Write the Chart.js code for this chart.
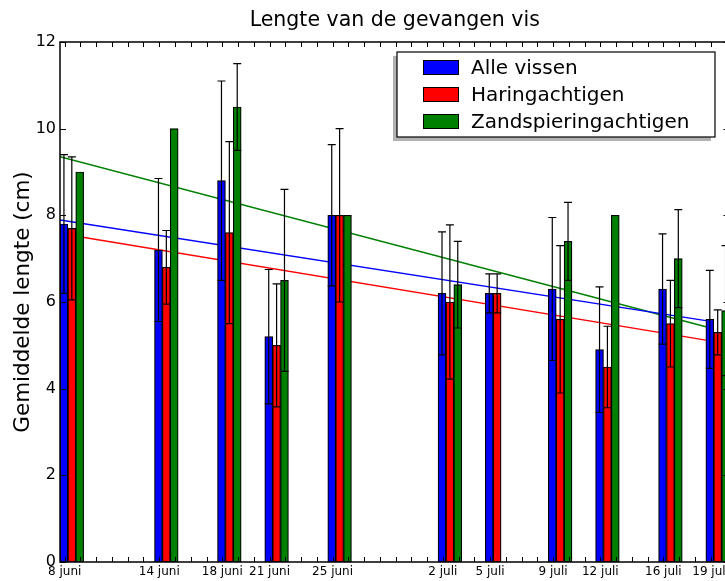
<!DOCTYPE html>
<html>
<head>
<meta charset="utf-8">
<script src="https://cdn.jsdelivr.net/npm/chart.js@4.4.1/dist/chart.umd.min.js"></script>
<style>
  html, body { margin: 0; padding: 0; background: #fff; overflow: hidden; }
  #wrap { width: 760px; height: 581px; }
</style>
</head>
<body>
<div id="wrap"><canvas id="chart"></canvas></div>
<script>
// Catch dates and day number counted from 8 juni
const dateLabels = ["8 juni", "14 juni", "18 juni", "21 juni", "25 juni", "2 juli", "5 juli", "9 juli", "12 juli", "16 juli", "19 juli"];
const dayNumbers = [0, 6, 10, 13, 17, 24, 27, 31, 34, 38, 41];

// Mean length (cm) and error per group
const alleVissen = [7.8, 7.2, 8.8, 5.2, 8.0, 6.2, 6.2, 6.3, 4.9, 6.3, 5.6];
const alleVissenErr = [1.6, 1.65, 2.3, 1.55, 1.63, 1.42, 0.45, 1.65, 1.45, 1.27, 1.13];
const haring = [7.7, 6.8, 7.6, 5.0, 8.0, 6.0, 6.2, 5.6, 4.5, 5.5, 5.3];
const haringErr = [1.65, 0.85, 2.1, 1.42, 2.0, 1.78, 0.45, 1.7, 0.94, 1.0, 0.52];
const zand = [9.0, 10.0, 10.5, 6.5, 8.0, 6.4, null, 7.4, 8.0, 7.0, 5.8];
const zandErr = [null, null, 1.0, 2.1, null, 1.0, null, 0.9, null, 1.13, 1.5];

// Trend lines: value at 8 juni and at 19 juli
const trendStart = [7.89, 7.58, 9.35];
const trendEnd = [5.57, 5.12, 5.43];

const yTicks = [0, 2, 4, 6, 8, 10, 12];

const FONT = "'DejaVu Sans', 'Liberation Sans', sans-serif";
const colors = ["#0000ff", "#ff0000", "#008000"];

function barSet(label, values, errs, color, shift) {
  const pts = [];
  values.forEach((v, i) => {
    if (v == null) return;
    pts.push({ x: dayNumbers[i] + shift, y: v, err: errs[i] });
  });
  return {
    type: "bar",
    label: label,
    data: pts,
    backgroundColor: color,
    borderColor: "#000",
    borderWidth: 1.2,
    borderSkipped: false,
    barThickness: 7.9,
    grouped: false,
    order: 0
  };
}

function trendSet(i) {
  return {
    type: "line",
    label: "",
    data: [{ x: dayNumbers[0], y: trendStart[i] }, { x: dayNumbers[dayNumbers.length - 1], y: trendEnd[i] }],
    borderColor: colors[i],
    borderWidth: 1.5,
    pointRadius: 0,
    tension: 0,
    order: 1
  };
}

const datasets = [
  barSet("Alle vissen", alleVissen, alleVissenErr, colors[0], 0.25),
  barSet("Haringachtigen", haring, haringErr, colors[1], 0.75),
  barSet("Zandspieringachtigen", zand, zandErr, colors[2], 1.25),
  trendSet(0), trendSet(1), trendSet(2)
];

// error bars on top of the bars
const errorBars = {
  id: "errorBars",
  afterDatasetsDraw(chart) {
    const { ctx, scales: { y } } = chart;
    ctx.save();
    ctx.strokeStyle = "#000";
    ctx.lineWidth = 1.2;
    chart.data.datasets.forEach((ds, di) => {
      if (ds.type !== "bar") return;
      const meta = chart.getDatasetMeta(di);
      meta.data.forEach((bar, i) => {
        const pt = ds.data[i];
        if (pt.err == null) return;
        const x = bar.x;
        const top = y.getPixelForValue(pt.y + pt.err);
        const bot = y.getPixelForValue(pt.y - pt.err);
        ctx.beginPath();
        ctx.moveTo(x, top); ctx.lineTo(x, bot);
        ctx.moveTo(x - 4, top); ctx.lineTo(x + 4, top);
        ctx.moveTo(x - 4, bot); ctx.lineTo(x + 4, bot);
        ctx.stroke();
      });
    });
    ctx.restore();
  }
};

// box round the plot with inward ticks
const frame = {
  id: "frame",
  afterDatasetsDraw(chart) {
    const { ctx, chartArea: a, scales: { x, y } } = chart;
    ctx.save();
    ctx.strokeStyle = "#000";
    ctx.lineWidth = 1;
    ctx.beginPath();
    x.ticks.forEach(t => {
      const px = Math.round(x.getPixelForValue(t.value)) + 0.5;
      ctx.moveTo(px, a.bottom); ctx.lineTo(px, a.bottom - 5);
      ctx.moveTo(px, a.top); ctx.lineTo(px, a.top + 5);
    });
    y.ticks.forEach(t => {
      const py = Math.round(y.getPixelForValue(t.value)) + 0.5;
      ctx.moveTo(a.left, py); ctx.lineTo(a.left + 6, py);
      ctx.moveTo(a.right, py); ctx.lineTo(a.right - 6, py);
    });
    ctx.stroke();
    ctx.lineWidth = 1.5;
    ctx.strokeRect(a.left, a.top, a.right - a.left, a.bottom - a.top);
    ctx.restore();
  }
};

// legend box, upper right, with shadow
const legendBox = {
  id: "legendBox",
  afterDraw(chart) {
    const ctx = chart.ctx;
    const bx = 397, by = 52, bw = 318, bh = 85;
    ctx.save();
    ctx.fillStyle = "rgba(0,0,0,0.3)";
    ctx.fillRect(bx - 4, by + 4, bw, bh);
    ctx.fillStyle = "#fff";
    ctx.fillRect(bx, by, bw, bh);
    ctx.strokeStyle = "#000";
    ctx.lineWidth = 1.2;
    ctx.strokeRect(bx, by, bw, bh);
    ctx.font = "20px " + FONT;
    ctx.textBaseline = "middle";
    chart.data.datasets.filter(d => d.type === "bar").forEach((ds, i) => {
      const cy = 67.5 + i * 27;
      ctx.fillStyle = ds.backgroundColor;
      ctx.fillRect(423.5, cy - 7, 35, 14);
      ctx.lineWidth = 1;
      ctx.strokeRect(423.5, cy - 7, 35, 14);
      ctx.fillStyle = "#000";
      ctx.fillText(ds.label, 471, cy + 1);
    });
    ctx.restore();
  }
};

new Chart(document.getElementById("chart"), {
  type: "bar",
  data: { datasets: datasets },
  options: {
    responsive: true,
    maintainAspectRatio: false,
    animation: false,
    layout: { padding: { left: 0, right: 30.5, top: 0, bottom: 0 } },
    plugins: {
      legend: { display: false },
      tooltip: { enabled: false },
      title: {
        display: true,
        text: "Lengte van de gevangen vis",
        fullSize: false,
        color: "#000",
        font: { family: FONT, size: 20.5, weight: "normal" },
        padding: { top: 8, bottom: 9.4 }
      }
    },
    scales: {
      x: {
        type: "linear",
        min: 0,
        max: 42.5,
        offset: false,
        grid: { display: false, drawTicks: false, offset: false },
        border: { display: false },
        afterBuildTicks(scale) {
          const ticks = [];
          for (let d = 0; d <= 42; d++) ticks.push({ value: d + 0.3 });
          scale.ticks = ticks;
        },
        afterFit(scale) { scale.height = 19; },
        ticks: {
          autoSkip: false,
          maxRotation: 0,
          padding: 3,
          color: "#000",
          font: { family: FONT, size: 12 },
          callback(value) {
            const i = dayNumbers.indexOf(Math.round(value - 0.3));
            return i >= 0 ? dateLabels[i] : "";
          }
        }
      },
      y: {
        min: 0,
        max: 12,
        grid: { display: false, drawTicks: false },
        border: { display: false },
        afterBuildTicks(scale) { scale.ticks = yTicks.map(v => ({ value: v })); },
        afterFit(scale) { scale.width = 60; },
        ticks: {
          padding: 4,
          color: "#000",
          font: { family: FONT, size: 16 }
        },
        title: {
          display: true,
          text: "Gemiddelde lengte (cm)",
          color: "#000",
          font: { family: FONT, size: 21.5 },
          padding: { top: 11, bottom: 0 }
        }
      }
    }
  },
  plugins: [errorBars, frame, legendBox]
});
</script>
</body>
</html>
